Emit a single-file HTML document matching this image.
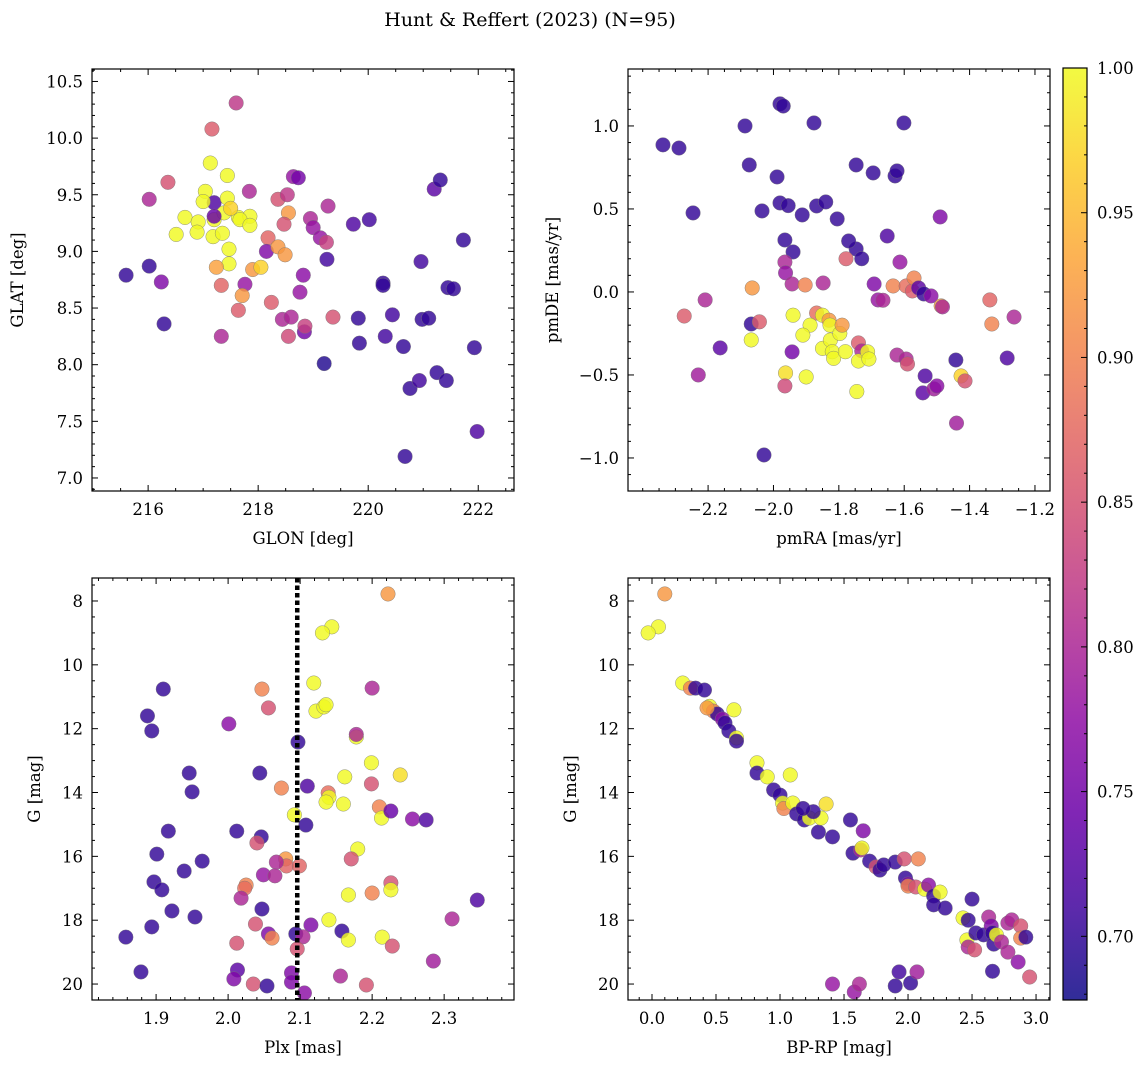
<!DOCTYPE html>
<html><head><meta charset="utf-8"><style>
body{margin:0;background:#fff}
svg{display:block;font-family:"DejaVu Serif","Liberation Serif",serif}
</style></head><body>
<svg id="fig" width="1148" height="1068" viewBox="0 0 1148 1068" xmlns="http://www.w3.org/2000/svg">
<rect width="1148" height="1068" fill="#fff"/>
<text x="530" y="26" font-size="19" text-anchor="middle">Hunt &amp; Reffert (2023) (N=95)</text>
</svg>
<script>
// ---- Panel 1: GLON vs GLAT ----
const p1x=[217.6,217.16,217.13,216.36,217.44,216.02,217.04,217.2,217.0,217.44,217.84,218.36,218.53,218.64,218.73,219.27,216.67,216.91,217.2,217.38,217.64,217.85,217.67,217.2,217.5,216.51,216.89,217.18,217.35,217.47,217.47,217.24,217.85,218.55,218.47,218.95,219.0,219.13,219.24,218.18,218.15,218.36,218.49,217.9,218.05,217.76,217.71,217.33,217.64,217.33,218.24,218.44,218.55,218.76,218.82,218.84,218.85,219.36,219.25,219.73,220.02,219.82,219.84,219.2,220.27,220.27,220.44,220.31,220.64,220.67,220.76,220.93,220.96,220.98,221.1,221.25,221.2,221.31,221.42,221.45,221.55,221.73,221.93,221.98,215.6,216.02,216.24,216.29,218.6];
const p1y=[10.31,10.08,9.78,9.61,9.67,9.46,9.53,9.43,9.44,9.47,9.53,9.46,9.5,9.66,9.65,9.4,9.3,9.26,9.28,9.34,9.3,9.31,9.28,9.31,9.38,9.15,9.17,9.13,9.16,9.02,8.89,8.86,9.23,9.34,9.24,9.29,9.21,9.12,9.08,9.12,9.0,9.04,8.97,8.84,8.86,8.71,8.61,8.7,8.48,8.25,8.55,8.4,8.25,8.64,8.79,8.29,8.34,8.42,8.93,9.24,9.28,8.41,8.19,8.01,8.72,8.7,8.44,8.25,8.16,7.19,7.79,7.86,8.91,8.4,8.41,7.93,9.55,9.63,7.86,8.68,8.67,9.1,8.15,7.41,8.79,8.87,8.73,8.36,8.42];
const p1c=[0.82,0.86,1.0,0.85,1.0,0.8,1.0,0.72,1.0,1.0,0.8,0.85,0.82,0.78,0.75,0.8,1.0,1.0,1.0,1.0,1.0,1.0,1.0,0.74,0.97,1.0,1.0,1.0,1.0,1.0,1.0,0.93,1.0,0.92,0.85,0.8,0.78,0.78,0.83,0.87,0.76,0.92,0.92,0.92,0.97,0.78,0.92,0.87,0.86,0.8,0.86,0.8,0.84,0.78,0.77,0.75,0.83,0.85,0.71,0.72,0.71,0.7,0.7,0.69,0.7,0.7,0.71,0.71,0.7,0.7,0.7,0.71,0.71,0.7,0.7,0.7,0.73,0.7,0.7,0.7,0.7,0.7,0.7,0.72,0.7,0.7,0.76,0.7,0.8];
// ---- Panel 2: pmRA vs pmDE ----
const p2x=[-2.338,-2.289,-2.246,-2.273,-2.209,-2.23,-2.163,-2.087,-2.074,-2.065,-2.068,-2.043,-2.068,-2.029,-2.035,-1.989,-1.98,-1.97,-1.98,-1.955,-1.965,-1.94,-1.965,-1.963,-1.943,-1.903,-1.94,-1.943,-1.963,-1.965,-1.9,-1.876,-1.912,-1.868,-1.84,-1.805,-1.848,-1.868,-1.85,-1.888,-1.91,-1.85,-1.83,-1.827,-1.826,-1.82,-1.816,-1.797,-1.79,-1.78,-1.747,-1.747,-1.73,-1.77,-1.778,-1.74,-1.73,-1.74,-1.712,-1.745,-1.708,-1.695,-1.692,-1.68,-1.652,-1.665,-1.634,-1.628,-1.622,-1.601,-1.613,-1.622,-1.594,-1.575,-1.594,-1.59,-1.57,-1.556,-1.54,-1.536,-1.543,-1.518,-1.509,-1.49,-1.487,-1.483,-1.5,-1.442,-1.44,-1.426,-1.414,-1.338,-1.332,-1.264,-1.285];
const p2y=[0.886,0.867,0.476,-0.145,-0.048,-0.5,-0.337,1.0,0.765,0.024,-0.193,-0.18,-0.289,-0.982,0.488,0.693,1.133,1.12,0.536,0.52,0.313,0.241,0.18,0.115,0.048,0.042,-0.14,-0.361,-0.488,-0.566,-0.512,1.018,0.464,0.518,0.542,0.44,0.054,-0.127,-0.14,-0.2,-0.26,-0.34,-0.17,-0.2,-0.29,-0.36,-0.4,-0.25,-0.2,-0.36,0.765,0.259,0.2,0.307,0.2,-0.307,-0.355,-0.416,-0.361,-0.6,-0.404,0.717,0.048,-0.048,0.337,-0.05,0.036,0.699,0.729,1.018,0.18,-0.38,0.036,0.006,-0.404,-0.434,0.084,0.024,-0.012,-0.506,-0.608,-0.024,-0.584,0.452,-0.084,-0.09,-0.566,-0.41,-0.79,-0.506,-0.536,-0.048,-0.193,-0.151,-0.398];
const p2c=[0.7,0.7,0.7,0.86,0.8,0.79,0.73,0.7,0.7,0.92,0.7,0.86,1.0,0.7,0.7,0.7,0.7,0.7,0.7,0.7,0.7,0.7,0.8,0.78,0.8,0.9,1.0,0.75,0.98,0.84,1.0,0.7,0.7,0.7,0.7,0.7,0.8,0.88,1.0,1.0,1.0,1.0,0.92,1.0,1.0,1.0,1.0,1.0,0.92,1.0,0.7,0.7,0.7,0.7,0.86,0.86,0.8,1.0,1.0,1.0,1.0,0.7,0.76,0.78,0.72,0.8,0.9,0.7,0.7,0.7,0.78,0.8,0.88,0.86,0.8,0.85,0.9,0.73,0.7,0.72,0.73,0.77,0.79,0.76,0.92,0.8,0.77,0.7,0.79,0.97,0.85,0.87,0.9,0.8,0.72];
// ---- Panel 3: Plx vs G ----
const p3x=[2.222,2.144,2.131,2.119,2.122,2.133,2.136,2.047,2.056,2.2,1.91,1.888,1.894,2.001,2.097,2.178,2.199,1.946,2.044,2.074,2.11,2.162,2.199,2.239,1.95,2.139,2.14,2.136,2.16,2.092,2.21,2.213,2.226,2.256,2.275,2.108,1.917,2.012,2.046,2.04,2.18,1.901,1.964,2.171,2.08,2.081,2.067,2.099,2.049,2.065,1.939,2.025,2.023,2.226,2.226,2.018,2.2,2.167,1.897,1.908,2.346,2.047,1.922,1.954,2.14,2.311,2.115,2.038,2.158,1.894,2.094,2.104,2.056,2.061,2.167,2.214,1.858,2.012,2.228,2.096,2.156,2.013,2.088,2.285,1.879,2.008,2.035,2.054,2.088,2.106,2.192,2.178];
const p3y=[7.78,8.81,9.0,10.57,11.45,11.32,11.25,10.76,11.35,10.73,10.76,11.6,12.07,11.85,12.42,12.26,13.07,13.39,13.39,13.86,13.8,13.51,13.73,13.45,13.98,14.01,14.15,14.3,14.36,14.7,14.45,14.8,14.58,14.83,14.86,15.02,15.21,15.21,15.39,15.58,15.77,15.93,16.15,16.08,16.08,16.3,16.18,16.3,16.58,16.61,16.46,16.9,17.0,16.83,17.05,17.31,17.15,17.21,16.8,17.05,17.37,17.65,17.71,17.9,17.99,17.96,18.15,18.12,18.34,18.21,18.43,18.52,18.43,18.56,18.62,18.53,18.53,18.72,18.81,18.9,19.75,19.56,19.65,19.28,19.62,19.84,20.0,20.06,19.94,20.28,20.03,12.18];
const p3c=[0.92,1.0,1.0,1.0,1.0,1.0,1.0,0.9,0.85,0.8,0.7,0.7,0.7,0.77,0.7,1.0,1.0,0.7,0.7,0.9,0.72,1.0,0.85,0.98,0.7,0.88,1.0,1.0,1.0,1.0,0.9,1.0,0.74,0.77,0.72,0.7,0.7,0.7,0.7,0.85,1.0,0.7,0.7,0.85,0.92,0.87,0.8,0.87,0.78,0.8,0.7,0.9,0.88,0.85,1.0,0.8,0.9,1.0,0.7,0.7,0.72,0.7,0.7,0.7,1.0,0.8,0.76,0.85,0.7,0.7,0.7,0.8,0.76,0.9,1.0,1.0,0.7,0.85,0.85,0.85,0.8,0.73,0.76,0.79,0.7,0.76,0.85,0.7,0.76,0.77,0.85,0.8];
// ---- Panel 4: BP-RP vs G ----
const p4x=[0.1,0.05,-0.03,0.24,0.3,0.34,0.41,0.45,0.48,0.51,0.43,0.55,0.64,0.57,0.6,0.66,0.66,0.82,0.82,0.9,1.08,0.95,1.0,1.02,1.03,1.1,1.13,1.19,1.23,1.3,1.36,1.32,1.41,1.55,1.57,1.63,1.65,1.64,1.7,1.75,1.78,1.81,1.9,1.97,1.98,2.0,2.0,2.08,2.06,2.13,2.16,2.2,2.25,2.2,2.29,2.5,2.43,2.46,2.47,2.52,2.53,2.59,2.63,2.65,2.66,2.67,2.69,2.73,2.78,2.81,2.88,2.88,2.92,2.86,2.95,2.78,2.66,1.41,1.58,1.62,1.93,1.9,2.02,2.07,2.47,1.26,1.18];
const p4y=[7.78,8.81,9.0,10.57,10.73,10.73,10.79,11.3,11.45,11.54,11.35,11.7,11.41,11.82,12.07,12.29,12.39,13.07,13.39,13.51,13.45,13.92,14.08,14.33,14.5,14.33,14.67,14.86,14.8,15.24,14.36,14.8,15.39,14.86,15.9,15.8,15.2,15.74,16.15,16.33,16.43,16.27,16.18,16.08,16.68,16.87,16.93,16.08,16.96,17.03,16.9,17.24,17.12,17.52,17.62,17.34,17.93,18.62,18.84,18.93,18.4,18.46,17.9,18.18,18.4,18.75,18.46,18.68,18.09,17.99,18.18,18.56,18.53,19.31,19.78,19.0,19.6,20.0,20.25,20.0,19.62,20.06,19.97,19.62,18.0,14.6,14.5];
const p4c=[0.92,1.0,1.0,1.0,0.9,0.7,0.7,1.0,0.9,0.7,0.92,0.77,1.0,0.7,0.7,1.0,0.7,1.0,0.7,1.0,1.0,0.7,0.7,1.0,0.9,1.0,0.7,0.7,1.0,0.7,0.98,1.0,0.7,0.7,0.7,0.8,0.76,1.0,0.7,0.85,0.7,0.7,0.7,0.85,0.7,0.76,0.9,0.9,0.85,1.0,0.77,0.7,1.0,0.7,0.7,0.7,1.0,1.0,0.8,0.85,0.7,0.7,0.8,0.76,0.7,0.7,1.0,0.8,0.8,0.8,0.85,0.9,0.7,0.77,0.85,0.8,0.7,0.78,0.78,0.8,0.71,0.7,0.7,0.79,0.7,0.7,0.7];

const VMIN=0.678, VMAX=1.0;
const stops=["#0d0887","#41049d","#6a00a8","#8f0da4","#b12a90","#cc4778","#e16462","#f2844b","#fca636","#fcce25","#f0f921"];
function hx(h){return [1,3,5].map(i=>parseInt(h.substr(i,2),16));}
function plasma(t){t=Math.max(0,Math.min(1,t));const f=t*10,i=Math.min(9,Math.floor(f)),r=f-i;const a=hx(stops[i]),b=hx(stops[i+1]);return "rgb("+a.map((v,k)=>Math.round(v+(b[k]-v)*r)).join(",")+")";}
const NS="http://www.w3.org/2000/svg";
const svg=document.getElementById("fig");
function mk(tag,attrs,parent){const e=document.createElementNS(NS,tag);for(const k in attrs)e.setAttribute(k,attrs[k]);(parent||svg).appendChild(e);return e;}
function fmt(v,d){let s=v.toFixed(d);if(v<0)s="\u2212"+s.slice(1);return s;}

function panel(name,box,xd,yd,xs,ys,cs,xt,xminor,xdec,yt,yminor,ydec,xlabel,ylabel,ylx){
  const g=mk("g",{});
  
  
  const X=v=>box.x+(v-xd[0])/(xd[1]-xd[0])*box.w;
  const Y=v=>box.y+box.h-(v-yd[0])/(yd[1]-yd[0])*box.h;
  for(let i=0;i<xs.length;i++){
    const c=mk("circle",{cx:X(xs[i]),cy:Y(ys[i]),r:7.3,fill:plasma((cs[i]-VMIN)/(VMAX-VMIN)),"fill-opacity":0.82,stroke:"#777","stroke-width":0.4},g);
    
    
  }
  const ax=mk("g",{stroke:"#000","stroke-width":1},g);
  const lo=Math.min(xd[0],xd[1]),hi=Math.max(xd[0],xd[1]);
  for(let v=Math.ceil(lo/xminor-1e-6)*xminor;v<=hi+1e-9;v+=xminor){const px=X(v);const major=xt.some(t=>Math.abs(t-v)<1e-6);const L=major?6:3;
    mk("line",{x1:px,x2:px,y1:box.y+box.h,y2:box.y+box.h-L},ax);mk("line",{x1:px,x2:px,y1:box.y,y2:box.y+L},ax);}
  const ylo=Math.min(yd[0],yd[1]),yhi=Math.max(yd[0],yd[1]);
  for(let v=Math.ceil(ylo/yminor-1e-6)*yminor;v<=yhi+1e-9;v+=yminor){const py=Y(v);const major=yt.some(t=>Math.abs(t-v)<1e-6);const L=major?6:3;
    mk("line",{x1:box.x,x2:box.x+L,y1:py,y2:py},ax);mk("line",{x1:box.x+box.w,x2:box.x+box.w-L,y1:py,y2:py},ax);}
  mk("rect",{x:box.x,y:box.y,width:box.w,height:box.h,fill:"none",stroke:"#000","stroke-width":1.2},g);
  xt.forEach(v=>{const t=mk("text",{x:X(v),y:box.y+box.h+24,"font-size":16.5,"text-anchor":"middle"},g);t.textContent=fmt(v,xdec);
    });
  yt.forEach(v=>{const t=mk("text",{x:box.x-9,y:Y(v)+6,"font-size":16.5,"text-anchor":"end"},g);t.textContent=fmt(v,ydec);
    });
  const xl=mk("text",{x:box.x+box.w/2,y:box.y+box.h+53,"font-size":16.5,"text-anchor":"middle"},g);xl.textContent=xlabel;
  
  const yl=mk("text",{x:ylx,y:box.y+box.h/2,"font-size":16.5,"text-anchor":"middle",transform:`rotate(-90 ${ylx} ${box.y+box.h/2})`},g);yl.textContent=ylabel;
  
  return {X,Y,g};
}
const B1={x:92,y:69,w:422,h:422},B2={x:628,y:69,w:422,h:422},B3={x:92,y:578,w:422,h:422},B4={x:628,y:578,w:422,h:422};
panel("glon-glat-panel",B1,[214.98,222.65],[6.885,10.61],p1x,p1y,p1c,[216,218,220,222],0.5,0,[7.0,7.5,8.0,8.5,9.0,9.5,10.0,10.5],0.1,1,"GLON [deg]","GLAT [deg]",23);
panel("proper-motion-panel",B2,[-2.445,-1.154],[-1.199,1.343],p2x,p2y,p2c,[-2.2,-2.0,-1.8,-1.6,-1.4,-1.2],0.05,1,[-1.0,-0.5,0.0,0.5,1.0],0.1,1,"pmRA [mas/yr]","pmDE [mas/yr]",558);
const P3=panel("parallax-panel",B3,[1.811,2.397],[20.5,7.28],p3x,p3y,p3c,[1.9,2.0,2.1,2.2,2.3],0.02,1,[8,10,12,14,16,18,20],0.5,0,"Plx [mas]","G [mag]",40);
panel("cmd-panel",B4,[-0.1875,3.109],[20.5,7.28],p4x,p4y,p4c,[0.0,0.5,1.0,1.5,2.0,2.5,3.0],0.1,1,[8,10,12,14,16,18,20],0.5,0,"BP-RP [mag]","G [mag]",576);
// median parallax line
const medPlx=2.096;
const ml=mk("line",{x1:P3.X(medPlx),x2:P3.X(medPlx),y1:B3.y,y2:B3.y+B3.h,stroke:"#000","stroke-width":4.5,"stroke-dasharray":"4.5,3"});


// colorbar
const cb={x:1063,y:68,w:24,h:932};
const defs=mk("defs",{});const lg=mk("linearGradient",{id:"cbg",x1:0,y1:1,x2:0,y2:0},defs);
for(let i=0;i<=20;i++)mk("stop",{offset:i/20,"stop-color":plasma(i/20)},lg);
const cbr=mk("rect",{x:cb.x,y:cb.y,width:cb.w,height:cb.h,fill:"url(#cbg)","fill-opacity":0.85,stroke:"#000","stroke-width":1.2});


const CY=v=>cb.y+cb.h-(v-VMIN)/(VMAX-VMIN)*cb.h;
const cbTicks=[0.70,0.75,0.80,0.85,0.90,0.95,1.00];
for(let v=0.68;v<=1.0001;v+=0.01){const major=cbTicks.some(t=>Math.abs(t-v)<1e-6);mk("line",{x1:cb.x+cb.w,x2:cb.x+cb.w-(major?6:3),y1:CY(v),y2:CY(v),stroke:"#000"});}
cbTicks.forEach(v=>{const t=mk("text",{x:cb.x+cb.w+10,y:CY(v)+6,"font-size":16.5});t.textContent=v.toFixed(2);
  });
</script>
</body></html>
